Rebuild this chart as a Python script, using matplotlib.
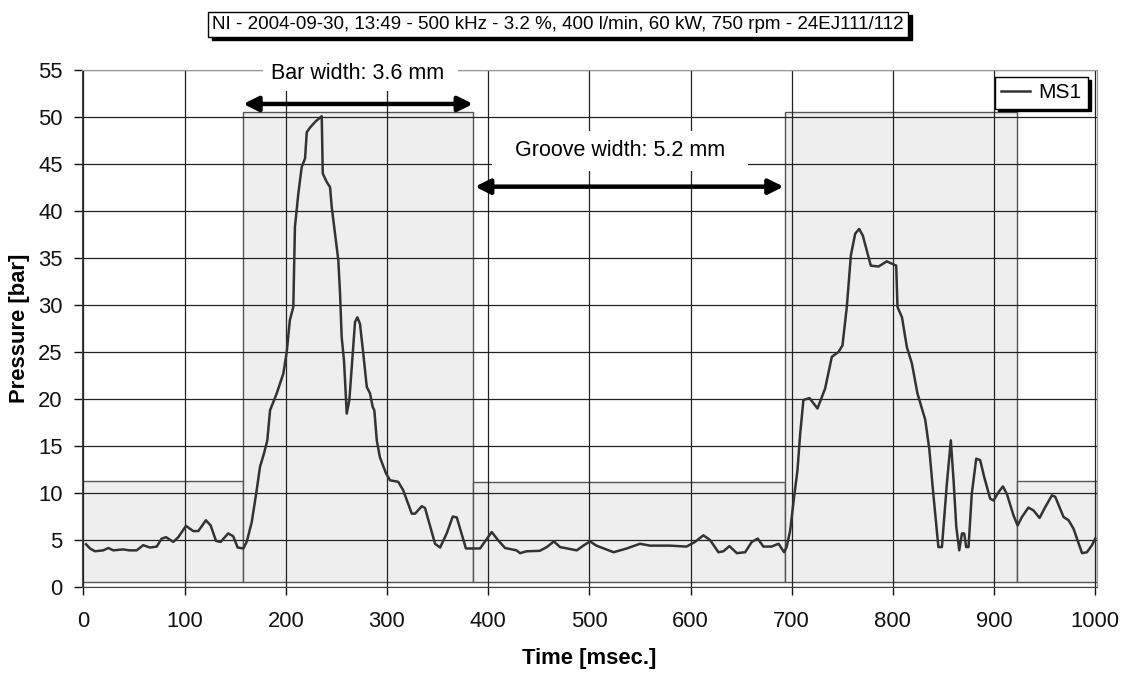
import numpy as np
import matplotlib
matplotlib.use("Agg")
from matplotlib import pyplot as plt
from matplotlib.patches import Rectangle, Shadow

plt.rcParams['font.family'] = ['Liberation Sans', 'DejaVu Sans']

# ---------------- data ----------------
title = "NI - 2004-09-30, 13:49 - 500 kHz - 3.2 %, 400 l/min, 60 kW, 750 rpm - 24EJ111/112"

time_ms = [
    2.5, 6.4, 11.4, 19.6, 24.5, 29.5, 39.3, 45, 52.6, 59, 65.7, 72.4, 77.3, 81.6, 88.8, 93.7,
    101.3, 108.5, 113.5, 121, 125.7, 131, 135.6, 143, 148, 152.4, 158, 161.3, 166.3, 171.2,
    174.5, 178.4, 181.7, 184.4, 191, 197.5, 200.9, 204, 207.4, 209, 212.4, 215.7, 219,
    220.7, 224, 229, 235.5, 236.5, 240.4, 243.7, 245.4, 248.6, 251.9, 253.6, 255.2, 257.5,
    260.2, 262.8, 266.1, 268.4, 270.7, 273.3, 276.6, 280, 283.2, 285.9, 287.5, 289.9, 293,
    299, 303, 311, 316, 324.5, 327.7, 334.4, 337.6, 347.5, 352.5, 359, 365, 369, 378, 392,
    403.5, 410, 416.7, 428, 431.5, 438, 451, 458, 465, 471, 487.6, 494, 500.7, 507, 524,
    537, 550, 560, 580, 596, 604.5, 612.7, 619.3, 627.6, 632.5, 638.5, 645.8, 654, 660.6,
    666.5, 672, 680, 687, 692.5, 695, 698.5, 702.4, 705.7, 708.4, 711.6, 717.6, 725.5,
    733, 739.7, 746.2, 750.2, 754.5, 758.5, 762.8, 766.7, 770.3, 778.2, 785.8, 794, 803.3,
    804.6, 809, 813.9, 818.8, 824.3, 832, 836, 840, 845, 848.5, 853.4, 857.3, 860, 862.7,
    865.6, 868.3, 870.5, 872.5, 874.8, 878, 882.4, 886.3, 890.3, 896.2, 899.5, 904.5,
    908.8, 912.7, 919.3, 923.3, 927.6, 934, 939, 945, 950.6, 957.2, 960.5, 968.7, 973.7,
    978.6, 987, 991.8, 996.8, 1000,
]
pressure_ms1 = [
    4.55, 4.1, 3.8, 3.9, 4.15, 3.9, 4.0, 3.9, 3.9, 4.45, 4.2, 4.3, 5.15, 5.3, 4.8, 5.3,
    6.5, 5.95, 5.95, 7.1, 6.55, 4.9, 4.8, 5.7, 5.4, 4.2, 4.1, 4.8, 6.9, 10.3,
    12.8, 14.2, 15.6, 18.8, 20.6, 22.7, 25.0, 28.4, 29.8, 38.3, 41.9, 44.7, 45.6,
    48.4, 48.9, 49.5, 50.1, 44.0, 43.1, 42.55, 40.4, 37.6, 34.75, 31.2, 26.6, 24.1,
    18.45, 19.9, 24.8, 28.2, 28.7, 28.0, 24.8, 21.3, 20.6, 19.15, 18.8, 15.6, 13.8,
    12.1, 11.35, 11.2, 10.3, 7.8, 7.8, 8.6, 8.4, 4.6, 4.2, 5.7, 7.5, 7.4, 4.1, 4.1,
    5.85, 4.95, 4.15, 3.9, 3.6, 3.8, 3.85, 4.25, 4.85, 4.25, 3.9, 4.4, 4.85, 4.4, 3.7,
    4.1, 4.6, 4.4, 4.4, 4.3, 4.8, 5.5, 5.0, 3.7, 3.8, 4.35, 3.6, 3.7, 4.8,
    5.15, 4.3, 4.3, 4.6, 3.7, 4.25, 6.0, 9.6, 12.4, 16.3, 19.9, 20.1, 19.0,
    21.1, 24.5, 25.0, 25.7, 29.8, 35.3, 37.6, 38.1, 37.4, 34.2, 34.1, 34.65, 34.2,
    29.8, 28.7, 25.5, 23.8, 20.6, 17.8, 14.7, 9.9, 4.25, 4.25, 11.0, 15.6, 11.35, 6.4,
    3.9, 5.7, 5.7, 4.25, 4.25, 9.9, 13.65, 13.5, 11.7, 9.4, 9.2, 10.1,
    10.7, 9.9, 7.6, 6.55, 7.45, 8.45, 8.15, 7.35, 8.5, 9.75, 9.6, 7.45, 7.1,
    6.2, 3.6, 3.7, 4.45, 5.15,
]

# bar / groove regions: edges [ms] and box heights [bar]
region_edges = [-1.5, 157.5, 385.5, 693.5, 922.5, 1001.5]
region_heights = [11.25, 50.5, 11.2, 50.5, 11.25]

bar_arrow = (158, 385, 51.4)
groove_arrow = (387, 692, 42.6)

x_ticks = np.arange(0, 1001, 100)
y_ticks = np.arange(0, 56, 5)

# ---------------- figure ----------------
fig = plt.figure(figsize=(11.29, 6.73), dpi=100)
ax = fig.add_axes([0.0726, 0.1278, 0.8988, 0.768])

for i in range(len(region_heights)):
    ax.add_patch(Rectangle((region_edges[i], 0.5), region_edges[i + 1] - region_edges[i],
                           region_heights[i] - 0.5, facecolor='#eeeeee',
                           edgecolor='#555555', lw=1.0, zorder=0.3))

ax.plot(time_ms, pressure_ms1, color='#333333', lw=1.8, label='MS1', zorder=4)

ax.set_xlim(-1.5, 1001.5)
ax.set_ylim(0, 55)
ax.set_xticks(x_ticks)
ax.set_yticks(y_ticks)
ax.set_axisbelow(True)
ax.grid(True, color='#222222', lw=0.9)
ax.tick_params(axis='x', direction='out', length=6, width=1, pad=11, labelsize=15.8, colors='#111111')
ax.tick_params(axis='y', direction='out', length=6, width=1, pad=8, labelsize=15.8, colors='#111111')
for side in ['top', 'right']:
    ax.spines[side].set_color('#999999')
for side in ['left', 'bottom']:
    ax.spines[side].set_color('#444444')

ax.set_xlabel('Time [msec.]', fontsize=15.8, fontweight='bold', labelpad=12)
ax.set_ylabel('Pressure [bar]', fontsize=15.8, fontweight='bold', labelpad=6)

# white label boxes
ax.add_patch(Rectangle((177.5, 52.8), 192.5, 3.0, facecolor='white', edgecolor='none',
                       zorder=3, clip_on=False))
ax.add_patch(Rectangle((403.6, 44.3), 253.4, 4.2, facecolor='white', edgecolor='none',
                       zorder=3))
ax.text(271, 54.6, 'Bar width: 3.6 mm', fontsize=15.5, ha='center', va='center', zorder=5)
ax.text(530, 46.5, 'Groove width: 5.2 mm', fontsize=15.5, ha='center', va='center', zorder=5)

for x0, x1, y in [bar_arrow, groove_arrow]:
    ax.annotate('', xy=(x1, y), xytext=(x0, y),
                arrowprops=dict(arrowstyle='<|-|>', color='black', lw=3.2,
                                mutation_scale=22, shrinkA=0, shrinkB=0),
                zorder=6)

leg = ax.legend(loc='upper right', bbox_to_anchor=(0.9914, 0.9865), borderaxespad=0,
                fontsize=15, frameon=True, fancybox=False, edgecolor='black', framealpha=1,
                handlelength=1.4, handletextpad=0.4, borderpad=0.3,
                shadow=dict(color='black', alpha=1))
leg.get_frame().set_linewidth(1.0)
leg.set_zorder(7)

# title box with drop shadow
t = fig.text(0.4945, 0.964, title, fontsize=13.5, ha='center', va='center', color='black',
             zorder=5,
             bbox=dict(boxstyle='square,pad=0.22', facecolor='white', edgecolor='black', lw=1))
fig.canvas.draw()
fig.add_artist(Shadow(t.get_bbox_patch(), 2.5, -2.5, facecolor='black', edgecolor='black',
                      alpha=1, zorder=4))

fig.savefig('out.png', dpi=100)
